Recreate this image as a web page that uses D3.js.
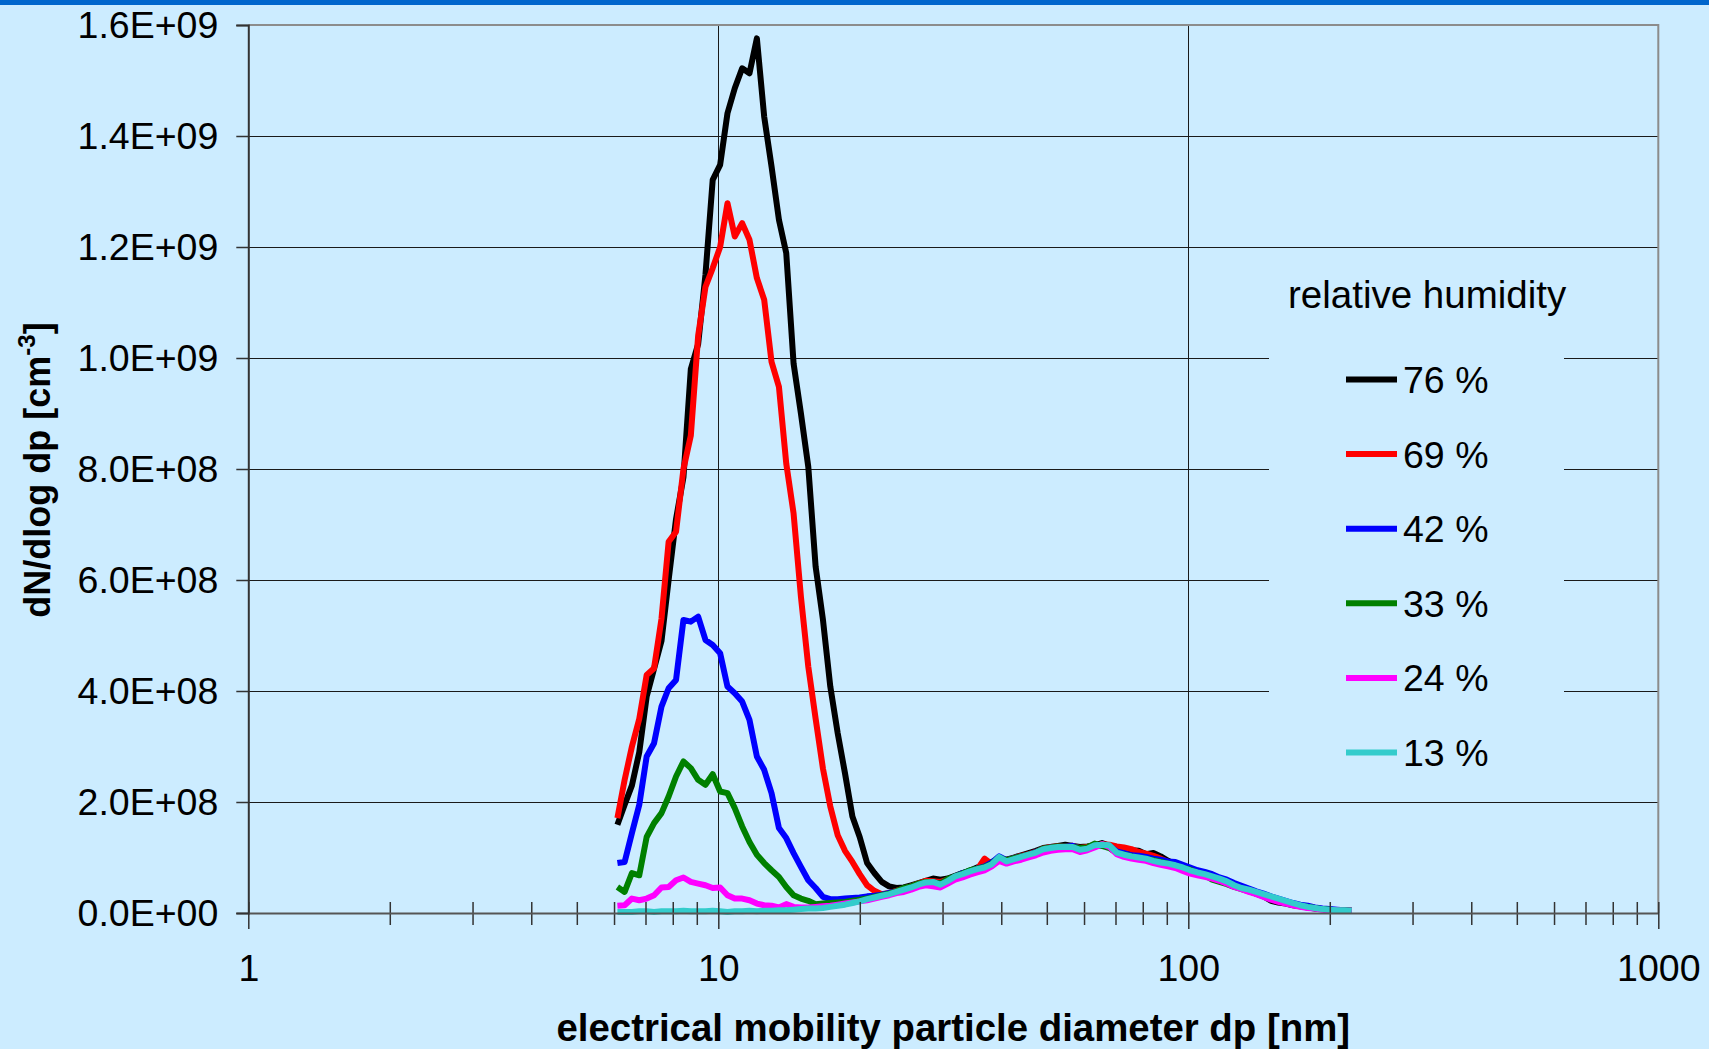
<!DOCTYPE html>
<html>
<head>
<meta charset="utf-8">
<script src="https://cdn.jsdelivr.net/npm/d3@7"></script>
<style>
  body { margin: 0; background: #ccecff; }
  svg text { font-family: "Liberation Sans", Arial, sans-serif; fill: #000; }
</style>
</head>
<body>
<div id="chart-area"></div>
<script>
// mobility diameter of each SMPS channel [nm]
const dp = [
  6.10, 6.32, 6.55, 6.79, 7.04, 7.30, 7.57, 7.84, 8.13, 8.43,
  8.74, 9.06, 9.39, 9.73, 10.09, 10.46, 10.84, 11.24, 11.65, 12.08,
  12.52, 12.98, 13.46, 13.95, 14.46, 14.99, 15.54, 16.11, 16.70, 17.31,
  17.95, 18.60, 19.29, 19.99, 20.73, 21.48, 22.27, 23.09, 23.93, 24.81,
  25.72, 26.66, 27.64, 28.64, 29.69, 30.78, 31.91, 33.08, 34.29, 35.54,
  36.85, 38.19, 39.59, 41.04, 42.55, 44.10, 45.72, 47.39, 49.13, 50.93,
  52.79, 54.73, 56.74, 58.81, 60.97, 63.20, 65.52, 67.92, 70.41, 72.98,
  75.66, 78.43, 81.30, 84.28, 87.37, 90.57, 93.89, 97.32, 100.9, 104.6,
  108.4, 112.4, 116.5, 120.8, 125.2, 129.8, 134.6, 139.5, 144.6, 149.9,
  155.4, 161.1, 167.0, 173.1, 179.5, 186.0, 192.9, 199.9, 207.3, 214.8,
  222.7
]

// dN/dlog dp per channel, in units of 1E+08 cm^-3
const rh76 = [
  1.59, 1.95, 2.30, 2.90, 3.90, 4.40, 4.90, 6.00, 7.10, 7.85,
  9.80, 10.25, 11.50, 13.21, 13.48, 14.41, 14.86, 15.22, 15.13, 15.76,
  14.35, 13.45, 12.49, 11.89, 9.90, 9.00, 8.04, 6.24, 5.28, 4.08,
  3.24, 2.52, 1.74, 1.37, 0.90, 0.72, 0.56, 0.48, 0.45, 0.46,
  0.50, 0.54, 0.58, 0.62, 0.60, 0.62, 0.67, 0.72, 0.76, 0.82,
  0.85, 0.92, 0.98, 0.96, 1.00, 1.04, 1.08, 1.12, 1.17, 1.19,
  1.21, 1.23, 1.21, 1.19, 1.20, 1.22, 1.26, 1.21, 1.19, 1.16,
  1.13, 1.12, 1.06, 1.08, 1.02, 0.94, 0.88, 0.84, 0.79, 0.73,
  0.70, 0.63, 0.58, 0.54, 0.49, 0.46, 0.40, 0.35, 0.30, 0.22,
  0.19, 0.17, 0.14, 0.12, 0.10, 0.08, 0.07, 0.06, 0.05, 0.04,
  0.04
]
const rh69 = [
  1.71, 2.40, 3.00, 3.50, 4.29, 4.41, 5.30, 6.69, 6.87, 8.00,
  8.60, 10.40, 11.28, 11.62, 12.00, 12.79, 12.19, 12.43, 12.13, 11.44,
  11.05, 9.93, 9.48, 8.10, 7.20, 5.70, 4.44, 3.50, 2.60, 1.92,
  1.40, 1.12, 0.92, 0.70, 0.50, 0.40, 0.34, 0.36, 0.40, 0.44,
  0.48, 0.53, 0.58, 0.57, 0.56, 0.60, 0.65, 0.71, 0.74, 0.78,
  0.98, 0.88, 0.99, 0.95, 0.99, 1.03, 1.06, 1.10, 1.16, 1.19,
  1.20, 1.20, 1.21, 1.17, 1.19, 1.21, 1.24, 1.23, 1.20, 1.18,
  1.15, 1.10, 1.07, 1.03, 0.98, 0.92, 0.88, 0.84, 0.79, 0.75,
  0.71, 0.67, 0.62, 0.56, 0.51, 0.46, 0.41, 0.37, 0.32, 0.26,
  0.23, 0.19, 0.16, 0.13, 0.11, 0.09, 0.07, 0.06, 0.05, 0.05,
  0.04
]
const rh42 = [
  0.90, 0.92, 1.44, 1.95, 2.82, 3.06, 3.72, 4.05, 4.20, 5.28,
  5.25, 5.34, 4.92, 4.83, 4.68, 4.08, 3.96, 3.81, 3.48, 2.82,
  2.58, 2.16, 1.53, 1.35, 1.08, 0.83, 0.59, 0.45, 0.29, 0.25,
  0.25, 0.26, 0.27, 0.28, 0.30, 0.31, 0.33, 0.36, 0.39, 0.42,
  0.46, 0.50, 0.54, 0.55, 0.53, 0.60, 0.66, 0.72, 0.76, 0.80,
  0.84, 0.91, 1.02, 0.95, 0.99, 1.02, 1.05, 1.10, 1.15, 1.18,
  1.19, 1.20, 1.21, 1.16, 1.17, 1.21, 1.22, 1.21, 1.11, 1.08,
  1.04, 1.03, 1.01, 0.98, 0.96, 0.93, 0.92, 0.87, 0.82, 0.77,
  0.74, 0.70, 0.64, 0.60, 0.54, 0.49, 0.44, 0.39, 0.35, 0.30,
  0.26, 0.22, 0.18, 0.15, 0.13, 0.10, 0.08, 0.07, 0.06, 0.05,
  0.04
]
const rh33 = [
  0.47, 0.38, 0.72, 0.68, 1.37, 1.62, 1.80, 2.10, 2.46, 2.73,
  2.61, 2.40, 2.31, 2.50, 2.19, 2.16, 1.89, 1.56, 1.28, 1.05,
  0.90, 0.77, 0.65, 0.47, 0.32, 0.26, 0.22, 0.16, 0.17, 0.18,
  0.19, 0.20, 0.22, 0.24, 0.26, 0.29, 0.32, 0.35, 0.39, 0.45,
  0.48, 0.53, 0.56, 0.55, 0.53, 0.61, 0.66, 0.71, 0.77, 0.80,
  0.83, 0.89, 1.00, 0.95, 0.99, 1.02, 1.05, 1.09, 1.16, 1.18,
  1.20, 1.20, 1.19, 1.17, 1.18, 1.25, 1.21, 1.17, 1.08, 1.05,
  1.02, 0.99, 0.97, 0.95, 0.92, 0.89, 0.85, 0.81, 0.78, 0.72,
  0.68, 0.60, 0.56, 0.52, 0.47, 0.43, 0.39, 0.35, 0.31, 0.26,
  0.22, 0.19, 0.16, 0.13, 0.11, 0.09, 0.07, 0.06, 0.05, 0.05,
  0.04
]
const rh24 = [
  0.13, 0.14, 0.26, 0.23, 0.26, 0.32, 0.46, 0.47, 0.59, 0.64,
  0.56, 0.53, 0.50, 0.45, 0.46, 0.32, 0.26, 0.26, 0.23, 0.17,
  0.14, 0.13, 0.10, 0.16, 0.11, 0.10, 0.10, 0.11, 0.12, 0.13,
  0.15, 0.17, 0.19, 0.21, 0.23, 0.26, 0.29, 0.32, 0.36, 0.38,
  0.42, 0.47, 0.50, 0.48, 0.46, 0.53, 0.60, 0.64, 0.69, 0.73,
  0.77, 0.84, 0.94, 0.89, 0.93, 0.96, 1.00, 1.04, 1.09, 1.12,
  1.14, 1.15, 1.15, 1.10, 1.13, 1.18, 1.24, 1.19, 1.06, 1.01,
  0.98, 0.96, 0.94, 0.90, 0.87, 0.84, 0.81, 0.76, 0.71, 0.68,
  0.65, 0.62, 0.58, 0.53, 0.47, 0.43, 0.38, 0.34, 0.29, 0.24,
  0.20, 0.17, 0.14, 0.11, 0.09, 0.08, 0.06, 0.05, 0.05, 0.04,
  0.04
]
const rh13 = [
  0.02, 0.02, 0.02, 0.03, 0.03, 0.02, 0.03, 0.03, 0.03, 0.04,
  0.03, 0.03, 0.03, 0.04, 0.03, 0.02, 0.03, 0.03, 0.04, 0.03,
  0.04, 0.04, 0.05, 0.05, 0.06, 0.07, 0.08, 0.08, 0.09, 0.11,
  0.13, 0.15, 0.18, 0.21, 0.25, 0.28, 0.31, 0.34, 0.38, 0.42,
  0.46, 0.51, 0.55, 0.56, 0.51, 0.58, 0.66, 0.70, 0.75, 0.79,
  0.82, 0.88, 1.01, 0.93, 0.97, 1.01, 1.05, 1.09, 1.15, 1.17,
  1.19, 1.19, 1.19, 1.14, 1.16, 1.22, 1.23, 1.22, 1.09, 1.05,
  1.02, 1.00, 0.98, 0.94, 0.91, 0.89, 0.86, 0.82, 0.77, 0.73,
  0.70, 0.66, 0.62, 0.57, 0.50, 0.45, 0.42, 0.38, 0.34, 0.30,
  0.26, 0.22, 0.18, 0.14, 0.11, 0.09, 0.07, 0.06, 0.05, 0.05,
  0.04
]

const labels = ["76 %", "69 %", "42 %", "33 %", "24 %", "13 %"]
const colors = ["#000000", "#ff0000", "#0000ff", "#008000", "#ff00ff", "#33cccc"]
const seriesValues = [rh76, rh69, rh42, rh33, rh24, rh13]

const yTicks = [0, 2e8, 4e8, 6e8, 8e8, 1e9, 1.2e9, 1.4e9, 1.6e9]
const xMajor = [1, 10, 100, 1000]
const xMinor = [2, 3, 4, 5, 6, 7, 8, 9, 20, 30, 40, 50, 60, 70, 80, 90, 200, 300, 400, 500, 600, 700, 800, 900]

const W = 1709
const H = 1049
const PLOT = { LEFT: 248.3, RIGHT: 1658.3, TOP: 25, BOTTOM: 913 }
const BG = "#ccecff"
const FONT = 37.5

const svg = d3.select("#chart-area").append("svg")
  .attr("width", W)
  .attr("height", H)
  .style("display", "block")

svg.append("rect")
  .attr("width", W)
  .attr("height", H)
  .attr("fill", BG)

// band across the top of the slide
svg.append("rect")
  .attr("width", W)
  .attr("height", 5)
  .attr("fill", "#0066cc")

const x = d3.scaleLog()
  .domain([1, 1000])
  .range([PLOT.LEFT, PLOT.RIGHT])

const y = d3.scaleLinear()
  .domain([0, 1.6e9])
  .range([PLOT.BOTTOM, PLOT.TOP])

// 1.6E+09 style labels
const sci = v => {
  if (v === 0) return "0.0E+00"
  const e = Math.floor(Math.log10(v) + 1e-9)
  const m = v / Math.pow(10, e)
  return m.toFixed(1) + "E+" + String(e).padStart(2, "0")
}

// grid
const grid = svg.append("g")
grid.selectAll(".hgrid")
  .data(yTicks.filter(v => v > 0 && v < 1.6e9))
  .enter().append("line")
    .attr("x1", PLOT.LEFT)
    .attr("x2", PLOT.RIGHT)
    .attr("y1", d => Math.round(y(d)) + 0.5)
    .attr("y2", d => Math.round(y(d)) + 0.5)
    .attr("stroke", "#1a1a1a")
    .attr("stroke-width", 1)
grid.selectAll(".vgrid")
  .data([10, 100])
  .enter().append("line")
    .attr("x1", d => Math.round(x(d)) + 0.5)
    .attr("x2", d => Math.round(x(d)) + 0.5)
    .attr("y1", PLOT.TOP)
    .attr("y2", PLOT.BOTTOM)
    .attr("stroke", "#1a1a1a")
    .attr("stroke-width", 1)

// plot frame: grey on top and right
svg.append("path")
  .attr("d", `M${PLOT.LEFT},${PLOT.TOP}H${PLOT.RIGHT}V${PLOT.BOTTOM}`)
  .attr("fill", "none")
  .attr("stroke", "#8c8c8c")
  .attr("stroke-width", 2)

// legend box hides the grid behind it
const legend = svg.append("g")
legend.append("rect")
  .attr("x", 1269)
  .attr("y", 262)
  .attr("width", 295)
  .attr("height", 520)
  .attr("fill", BG)

// curves
const line = d3.line()
  .x(d => x(d[0]))
  .y(d => y(d[1] * 1e8))

svg.append("g").selectAll("path")
  .data(seriesValues)
  .enter().append("path")
    .attr("d", vals => line(vals.map((v, i) => [dp[i], v])))
    .attr("fill", "none")
    .attr("stroke", (d, i) => colors[i])
    .attr("stroke-width", 6)
    .attr("stroke-linejoin", "round")
    .attr("stroke-linecap", "butt")

// Y axis
const yAxisCall = d3.axisLeft(y)
  .tickValues(yTicks)
  .tickSize(12)
  .tickPadding(18)
  .tickFormat(sci)
const yAxisGroup = svg.append("g")
  .attr("transform", `translate(${PLOT.LEFT}, 0)`)
  .call(yAxisCall)
yAxisGroup.select(".domain").attr("stroke", "#333").attr("stroke-width", 2)
yAxisGroup.selectAll(".tick line").attr("stroke", "#333").attr("stroke-width", 1.5)
yAxisGroup.selectAll("text")
  .attr("font-size", FONT)
  .attr("font-family", "Liberation Sans, Arial, sans-serif")
  .attr("fill", "#000")

// X axis: minor ticks cross the axis, majors reach a bit further down
const xMinorCall = d3.axisBottom(x)
  .tickValues(xMinor)
  .tickSize(12)
  .tickFormat("")
const xMinorGroup = svg.append("g")
  .attr("transform", `translate(0, ${PLOT.BOTTOM})`)
  .call(xMinorCall)
xMinorGroup.select(".domain").remove()
xMinorGroup.selectAll(".tick line")
  .attr("y1", -11)
  .attr("stroke", "#333")
  .attr("stroke-width", 1.5)

const xAxisCall = d3.axisBottom(x)
  .tickValues(xMajor)
  .tickSize(16)
  .tickSizeOuter(0)
  .tickPadding(25)
  .tickFormat(d3.format("d"))
const xAxisGroup = svg.append("g")
  .attr("transform", `translate(0, ${PLOT.BOTTOM})`)
  .call(xAxisCall)
xAxisGroup.select(".domain").attr("stroke", "#555").attr("stroke-width", 2)
xAxisGroup.selectAll(".tick line")
  .attr("y1", -11)
  .attr("stroke", "#333")
  .attr("stroke-width", 1.5)
xAxisGroup.selectAll("text")
  .attr("font-size", FONT)
  .attr("font-family", "Liberation Sans, Arial, sans-serif")
  .attr("fill", "#000")

// axis titles
svg.append("text")
  .attr("x", (PLOT.LEFT + PLOT.RIGHT) / 2)
  .attr("y", 1041)
  .attr("text-anchor", "middle")
  .attr("font-size", 38.4)
  .attr("font-weight", "bold")
  .text("electrical mobility particle diameter dp [nm]")

const yLabel = svg.append("text")
  .attr("transform", "translate(50, 470) rotate(-90)")
  .attr("text-anchor", "middle")
  .attr("font-size", 36)
  .attr("font-weight", "bold")
yLabel.append("tspan").text("dN/dlog dp [cm")
yLabel.append("tspan").attr("font-size", 24).attr("dy", -15).text("-3")
yLabel.append("tspan").attr("dy", 15).text("]")

// legend entries
legend.append("text")
  .attr("x", 1288)
  .attr("y", 308)
  .attr("font-size", 38.5)
  .text("relative humidity")

const items = legend.selectAll(".item")
  .data(labels)
  .enter().append("g")
    .attr("transform", (d, i) => `translate(0, ${379.5 + i * 74.6})`)
items.append("line")
  .attr("x1", 1346)
  .attr("x2", 1397)
  .attr("stroke", (d, i) => colors[i])
  .attr("stroke-width", 6)
items.append("text")
  .attr("x", 1403)
  .attr("y", 13.5)
  .attr("font-size", FONT)
  .text(d => d)
</script>
</body>
</html>
